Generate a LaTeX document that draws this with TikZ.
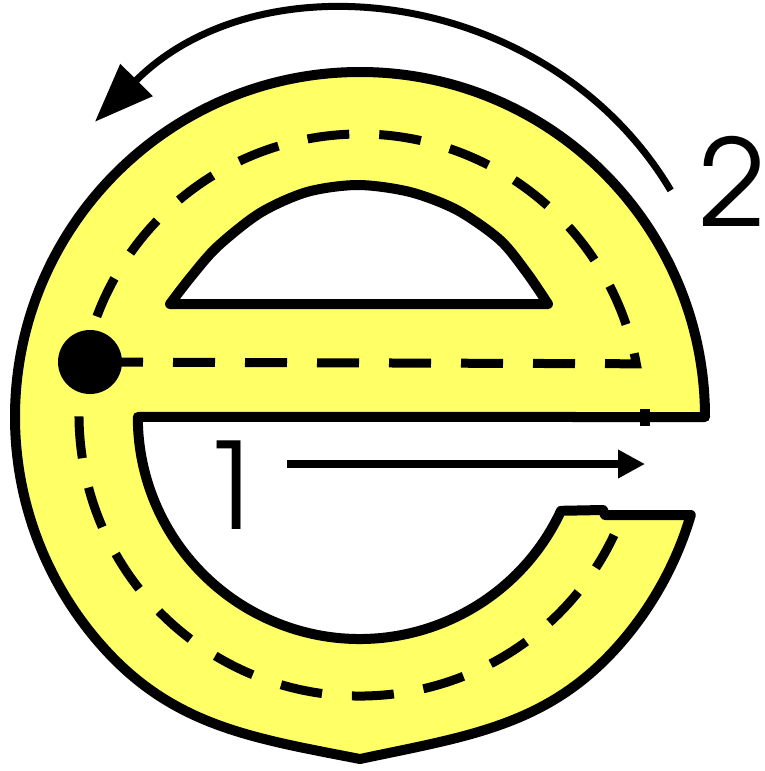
\documentclass[tikz,border=0pt]{standalone}
\usepackage{fontspec}
\newfontfamily\numfont{TeX Gyre Adventor}
\usepackage{tikz}
\usetikzlibrary{arrows.meta}

\definecolor{eyellow}{RGB}{255,255,102}

\begin{document}
\begin{tikzpicture}[x=1pt, y=-1pt,
                    eshape/.style={draw=black, fill=eyellow, line width=10pt, line join=round, even odd rule},
                    centerline/.style={line width=9pt, dash pattern=on 42pt off 30pt, dash phase=61pt},
                    pivot/.style={circle, fill=black, minimum size=64pt, inner sep=0pt},
                    rotarrow/.style={-{Triangle[length=59pt, width=44pt]}, line width=7pt},
                    movearrow/.style={-{Triangle[length=27pt, width=27pt]}, line width=8pt},
                    numlabel/.style={inner sep=0pt, font={\numfont\fontsize{120}{120}\selectfont}}]

    \useasboundingbox (0,0) rectangle (765,771);

    \path[eshape] (705,417)
        arc[start angle=0, end angle=-220, radius=345]
        .. controls (168.4,725.4) and (249,737.4) .. (360,759)
        .. controls (470.5,735.5) and (551.6,725.4) .. (624.3,638.8)
        arc[start angle=-320, end angle=-343.5, radius=345]
        -- (605,515) -- (603,510) -- (561,510.8)
        arc[start angle=25, end angle=180, radius=222]
        -- cycle
        (170,304) -- (548,304)
        -- plot[smooth] coordinates {(548,304) (527,273) (500,240) (457,210) (410,192) (358,185) (307,192) (260,213) (217,247) (190,278) (170,304)}
        -- cycle;

    \draw[centerline] (90,362) -- (636.3,363.8)
        arc[start angle=-10.5, end angle=-334.7, radius=281];

    \fill (640,409) rectangle (650,426);

    \node[pivot] (dot) at (90,362) {};

    \coordinate (r1) at (670.7,190.4);
    \coordinate (r2) at (94.9,121.8);
    \draw[rotarrow] (r1) .. controls (550,-12) and (262,-46) .. (r2);

    \coordinate (m1) at (287,464);
    \coordinate (m2) at (645,464);
    \draw[movearrow] (m1) -- (m2);

    \node[numlabel] (one) at (232,485) {1};
    \node[numlabel] (two) at (733,181) {2};
\end{tikzpicture}
\end{document}
